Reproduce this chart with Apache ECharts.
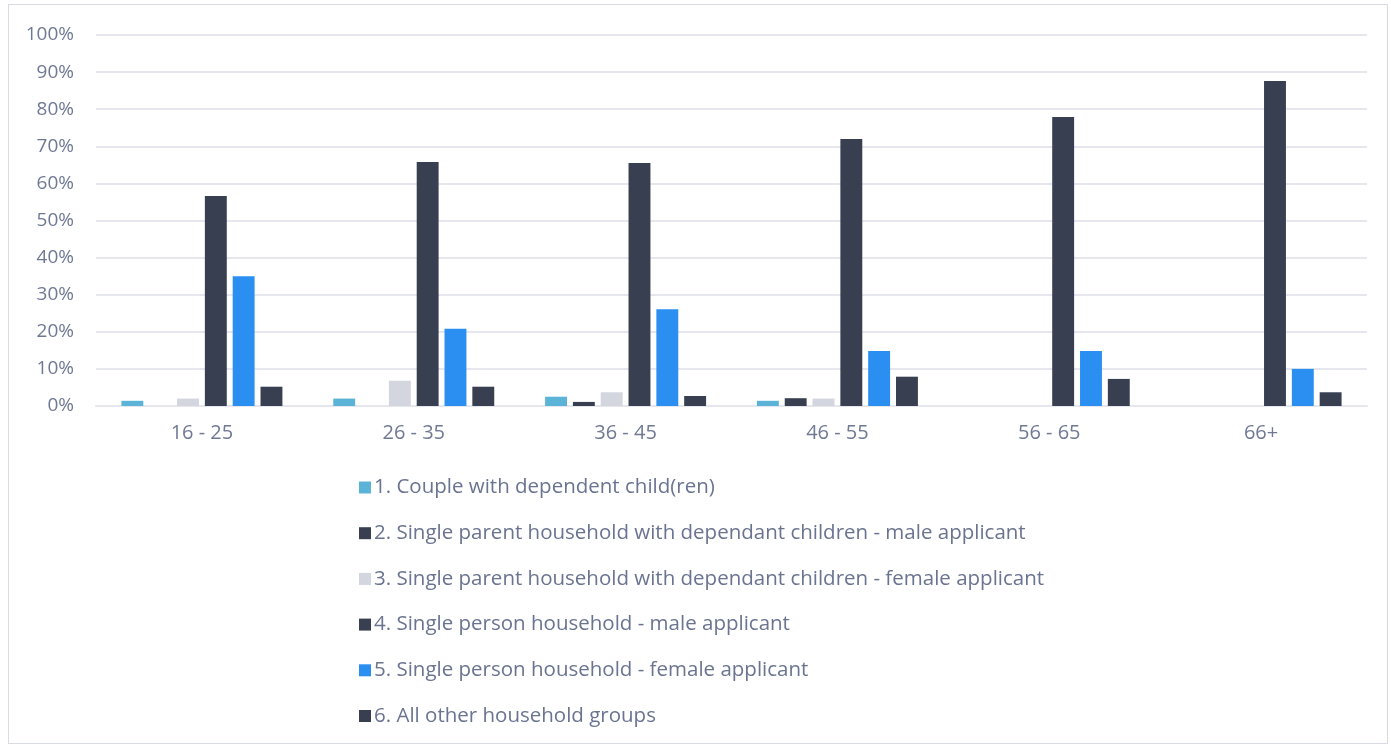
<!DOCTYPE html>
<html><head><meta charset="utf-8">
<script src="https://cdn.jsdelivr.net/npm/echarts@6/dist/echarts.min.js"></script>
<style>html,body{margin:0;padding:0;background:#fff}
#frame{position:absolute;left:8px;top:4px;width:1380px;height:740px;border:1px solid #d9dbe3;box-sizing:border-box}
#c{position:absolute;left:0;top:0;width:1391px;height:749px}</style>
</head><body><div id="frame"></div><div id="c"></div>
<script>
const categories = ['16 - 25','26 - 35','36 - 45','46 - 55','56 - 65','66+'];
const seriesNames = [
  '1. Couple with dependent child(ren)',
  '2. Single parent household with dependant children - male applicant',
  '3. Single parent household with dependant children - female applicant',
  '4. Single person household - male applicant',
  '5. Single person household - female applicant',
  '6. All other household groups'
];
const s1 = [1.4, 2.0, 2.5, 1.4, 0, 0];
const s2 = [0, 0, 1.1, 2.1, 0, 0];
const s3 = [2.0, 6.8, 3.7, 2.0, 0, 0];
const s4 = [56.6, 65.8, 65.5, 72.0, 77.9, 87.6];
const s5 = [35.0, 20.8, 26.1, 14.8, 14.8, 10.0];
const s6 = [5.2, 5.2, 2.7, 7.9, 7.3, 3.7];
const yTicks = [0,10,20,30,40,50,60,70,80,90,100];

const colors = ['#5bb4d8','#373f51','#d3d5df','#373f51','#2a8ff0','#373f51'];
const allData = [s1,s2,s3,s4,s5,s6];
const font = 'Open Sans';
const chart = echarts.init(document.getElementById('c'));
chart.setOption({
  animation:false,
  textStyle:{fontFamily:font},
  grid:{left:96,right:24,top:35,bottom:343,containLabel:false},
  legend:{
    orient:'vertical', left:354, top:472, itemGap:24.7,
    itemWidth:12, itemHeight:12, icon:'rect', itemStyle:{borderWidth:0},
    textStyle:{fontSize:20.5,color:'#6a7490',fontFamily:font,padding:[0,0,0,-2]},
    data:seriesNames
  },
  xAxis:{type:'category',data:categories,
    axisLine:{show:true,lineStyle:{color:'#e6e7ee',width:2}},
    axisTick:{show:false},
    axisLabel:{color:'#6f7994',fontSize:20,margin:17,fontFamily:font}},
  yAxis:{type:'value',min:0,max:100,interval:10,
    axisLine:{show:false},axisTick:{show:false},
    splitLine:{lineStyle:{color:'#e6e7ee',width:2}},
    axisLabel:{color:'#6f7994',fontSize:19,margin:22,fontFamily:font,
      formatter:v=>yTicks.includes(v)?v+'%':''}},
  series: seriesNames.map((n,i)=>({
    name:n,type:'bar',data:allData[i],
    barGap:'27%',barCategoryGap:'24%',
    itemStyle:{color:colors[i]}
  }))
});
</script></body></html>
